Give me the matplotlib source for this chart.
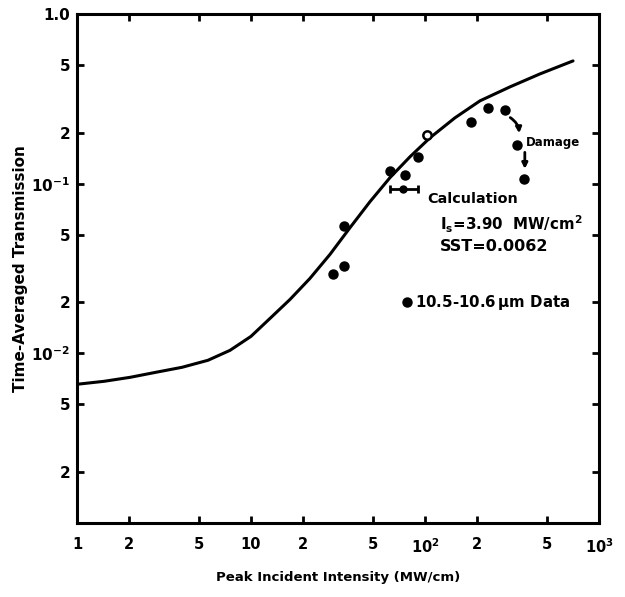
import matplotlib
matplotlib.use("Agg")
import matplotlib.pyplot as plt
from matplotlib.ticker import FixedLocator, FixedFormatter, NullLocator

plt.rcParams['font.family'] = ['DejaVu Sans']
plt.rcParams['mathtext.default'] = 'bf'

# Calculated curve
curve_x = [1.0, 1.43, 2.02, 2.84, 4.01, 5.66, 7.57, 10.0, 12.86, 16.75, 21.8, 28.4,
           37.1, 48.3, 62.9, 82.0, 106.9, 148.7, 207, 308, 458, 709]
curve_y = [0.00657, 0.00684, 0.00722, 0.00773, 0.00827, 0.00910, 0.01041, 0.01259,
           0.01606, 0.02077, 0.02762, 0.03823, 0.0551, 0.07835, 0.1085, 0.1441,
           0.1865, 0.2445, 0.3078, 0.3721, 0.4437, 0.5292]

# Measured 10.5-10.6 um data
data_x = [29.6, 34.2, 34.2, 62.9, 76.7, 91.2, 184, 230, 288, 338, 371]
data_y = [0.0292, 0.0325, 0.056, 0.119, 0.113, 0.144, 0.232, 0.28, 0.272, 0.169, 0.107]

# Open-circle point and the point with horizontal error bar
open_x = [103]
open_y = [0.194]
err_x = [74.7]
err_y = [0.0935]
err_lo = [62.9]
err_hi = [91.2]

x_ticks = [1, 2, 5, 10, 20, 50, 100, 200, 500, 1000]
x_labels = ['1', '2', '5', '10', '2', '5', r'$10^2$', '2', '5', r'$10^3$']
y_ticks = [0.002, 0.005, 0.01, 0.02, 0.05, 0.1, 0.2, 0.5, 1.0]
y_labels = ['2', '5', r'$10^{-2}$', '2', '5', r'$10^{-1}$', '2', '5', '1.0']

fig = plt.figure(figsize=(6.25, 5.97), dpi=100)
ax = fig.add_axes([0.1232, 0.124, 0.8352, 0.8525])
ax.set_xscale('log')
ax.set_yscale('log')
ax.set_xlim(1, 1000)
ax.set_ylim(0.001, 1.0)

ax.plot(curve_x, curve_y, color='black', lw=2.2, solid_capstyle='round',
        solid_joinstyle='round')
ax.plot(data_x, data_y, 'o', color='black', ms=6.5)
ax.plot(open_x, open_y, 'o', mfc='white', mec='black', mew=1.8, ms=6)
ax.errorbar(err_x, err_y,
            xerr=[[err_x[0] - err_lo[0]], [err_hi[0] - err_x[0]]],
            fmt='o', color='black', ms=5, elinewidth=2, capsize=3, capthick=2)

for s in ax.spines.values():
    s.set_linewidth(2.2)

ax.xaxis.set_major_locator(FixedLocator(x_ticks))
ax.xaxis.set_major_formatter(FixedFormatter(x_labels))
ax.xaxis.set_minor_locator(NullLocator())
ax.yaxis.set_major_locator(FixedLocator(y_ticks))
ax.yaxis.set_major_formatter(FixedFormatter(y_labels))
ax.yaxis.set_minor_locator(NullLocator())
ax.tick_params(which='both', direction='in', length=5, width=2, top=True, right=True)
ax.tick_params(axis='x', pad=10, labelsize=10.5)
ax.tick_params(axis='y', pad=5, labelsize=11)
for lab in ax.get_xticklabels() + ax.get_yticklabels():
    lab.set_fontweight('bold')

ax.set_xlabel('Peak Incident Intensity (MW/cm)', fontsize=9.5, fontweight='bold')
ax.xaxis.set_label_coords(0.5, -0.095)
ax.set_ylabel('Time-Averaged Transmission', fontsize=11, fontweight='bold')
ax.yaxis.set_label_coords(-0.094, 0.5)

# Annotations
ax.text(102.6, 0.0816, 'Calculation', fontsize=10.4, fontweight='bold', va='center')
ax.text(122, 0.0574, r'I$_s$=3.90  MW/cm$^2$', fontsize=10.8, fontweight='bold', va='center')
ax.text(122, 0.0426, 'SST=0.0062', fontsize=11.5, fontweight='bold', va='center')
ax.plot([78.8], [0.01995], 'o', color='black', ms=6.5)
ax.text(87.7, 0.01995, r'10.5-10.6$\,\mu$m Data', fontsize=10.8, fontweight='bold', va='center')

# Damage arrows
ax.annotate('', xy=(data_x[9] * 1.03, data_y[9] * 1.13), xytext=(data_x[8] * 1.04, data_y[8] * 0.92),
            arrowprops=dict(arrowstyle='-|>', color='black', lw=2,
                            connectionstyle='arc3,rad=-0.3', mutation_scale=8))
ax.annotate('', xy=(data_x[10] * 1.01, data_y[10] * 1.1), xytext=(data_x[10] * 1.01, data_y[9] * 0.94),
            arrowprops=dict(arrowstyle='-|>', color='black', lw=2, mutation_scale=8))
ax.text(data_x[9] * 1.12, data_y[9] * 1.04, 'Damage', fontsize=8.5, fontweight='bold', va='center')

fig.savefig('out.png', dpi=100)
